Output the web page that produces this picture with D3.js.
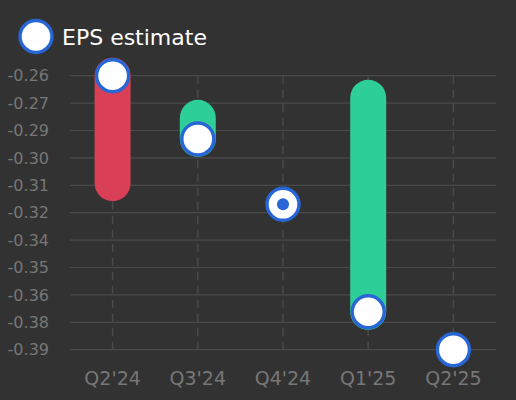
<!DOCTYPE html>
<html>
<head>
<meta charset="utf-8">
<script src="https://cdn.jsdelivr.net/npm/d3@7"></script>
<style>
  html, body { margin: 0; padding: 0; background: #323232; }
  svg { display: block; font-family: "DejaVu Sans", sans-serif; }
</style>
</head>
<body>
<svg id="chart" width="516" height="400"></svg>
<script>
const categories = ["Q2'24", "Q3'24", "Q4'24", "Q1'25", "Q2'25"];
const estimates = [-0.26, -0.29, -0.321, -0.372, -0.39];
const actuals = [-0.311, -0.28, null, -0.2705, null];
const tickValues = [-0.26, -0.273, -0.286, -0.299, -0.312, -0.325, -0.338, -0.351, -0.364, -0.377, -0.39];
const tickLabels = ["-0.26", "-0.27", "-0.29", "-0.30", "-0.31", "-0.32", "-0.34", "-0.35", "-0.36", "-0.38", "-0.39"];
const legendLabel = "EPS estimate";

const W = 516, H = 400;
const margin = { top: 75.7, right: 20, bottom: 50.3, left: 70 };
const svg = d3.select("#chart");
svg.append("rect").attr("width", W).attr("height", H).attr("fill", "#323232");

const x = d3.scaleBand().domain(categories).range([margin.left, W - margin.right]);
const y = d3.scaleLinear().domain([-0.26, -0.39]).range([margin.top, H - margin.bottom]);

const data = categories.map((c, i) => ({ c, est: estimates[i], act: actuals[i] }));

// horizontal gridlines
svg.append("g").selectAll("line").data(tickValues).join("line")
  .attr("x1", margin.left).attr("x2", W - margin.right)
  .attr("y1", d => y(d)).attr("y2", d => y(d))
  .attr("stroke", "#4a4a4a").attr("stroke-width", 1.2);

// y labels
svg.append("g").selectAll("text").data(tickValues).join("text")
  .attr("x", 49).attr("y", d => y(d)).attr("dy", "0.36em")
  .attr("text-anchor", "end").attr("fill", "#777777").attr("font-size", 16)
  .text((d, i) => tickLabels[i]);

// vertical dashed lines
svg.append("g").selectAll("line").data(categories).join("line")
  .attr("x1", d => x(d) + x.bandwidth() / 2).attr("x2", d => x(d) + x.bandwidth() / 2)
  .attr("y1", y(-0.26)).attr("y2", y(-0.39))
  .attr("stroke", "#4a4a4a").attr("stroke-width", 1.5).attr("stroke-dasharray", "8,6");

// x labels
svg.append("g").selectAll("text").data(categories).join("text")
  .attr("x", d => x(d) + x.bandwidth() / 2).attr("y", 385)
  .attr("text-anchor", "middle").attr("fill", "#777777").attr("font-size", 19)
  .text(d => d);

// bars (actual vs estimate)
svg.append("g").selectAll("line").data(data.filter(d => d.act !== null)).join("line")
  .attr("x1", d => x(d.c) + x.bandwidth() / 2).attr("x2", d => x(d.c) + x.bandwidth() / 2)
  .attr("y1", d => y(d.act)).attr("y2", d => y(d.est))
  .attr("stroke", d => d.act < d.est ? "#d94057" : "#2dce97")
  .attr("stroke-width", 36).attr("stroke-linecap", "round");

// estimate markers
svg.append("g").selectAll("circle").data(data).join("circle")
  .attr("cx", d => x(d.c) + x.bandwidth() / 2).attr("cy", d => y(d.est))
  .attr("r", 16).attr("fill", "#ffffff").attr("stroke", "#2766d4").attr("stroke-width", 3.4);

// inner dot for the current quarter (no actual reported)
svg.append("g").selectAll("circle").data(data.filter(d => d.c === "Q4'24")).join("circle")
  .attr("cx", d => x(d.c) + x.bandwidth() / 2).attr("cy", d => y(d.est))
  .attr("r", 6).attr("fill", "#2766d4");

// legend
svg.append("circle").attr("cx", 36).attr("cy", 36.5).attr("r", 16)
  .attr("fill", "#ffffff").attr("stroke", "#2766d4").attr("stroke-width", 3.4);
svg.append("text").attr("x", 62).attr("y", 45).attr("fill", "#ffffff").attr("font-size", 22)
  .text(legendLabel);
</script>
</body>
</html>
